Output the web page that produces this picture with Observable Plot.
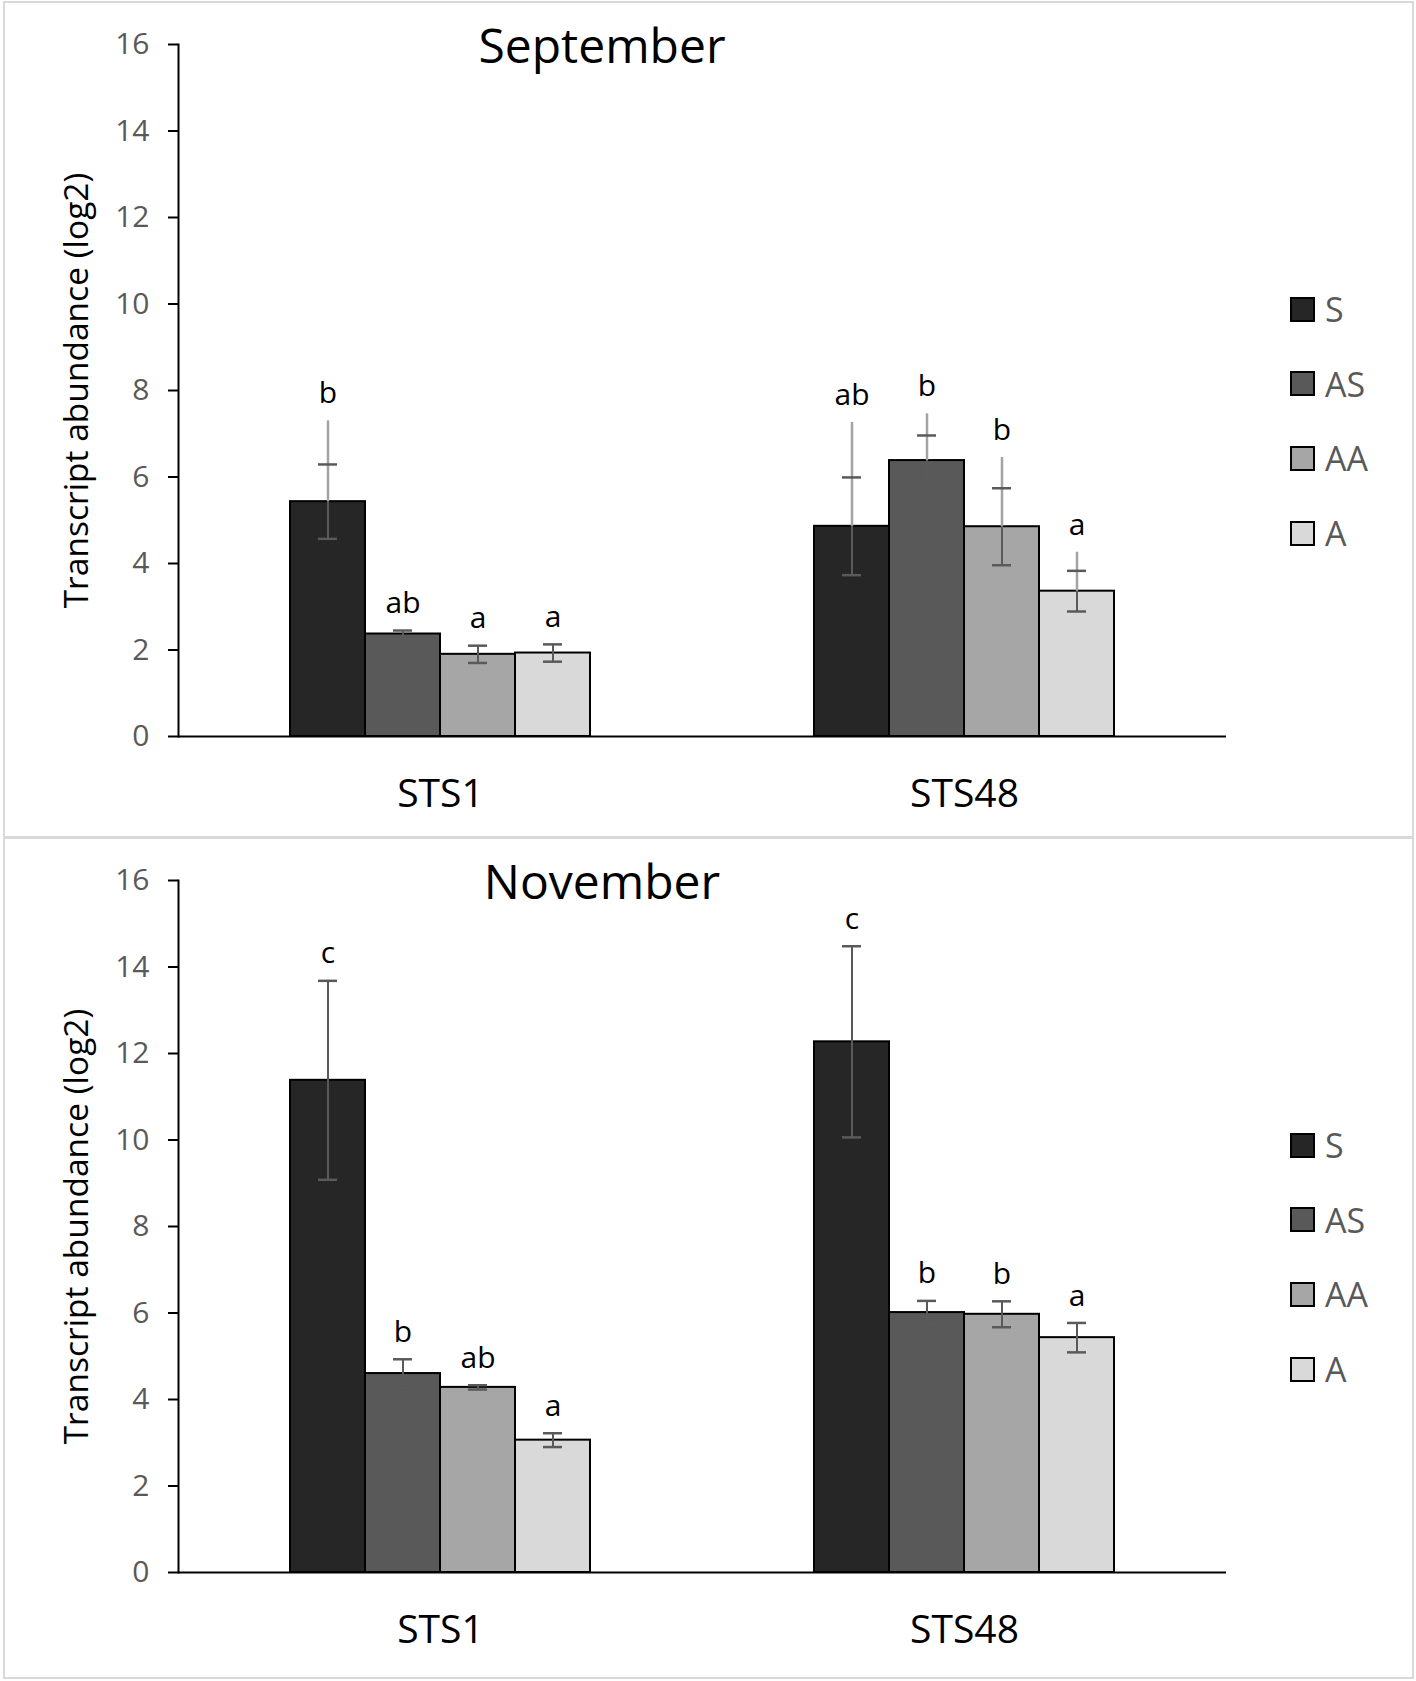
<!DOCTYPE html>
<html><head><meta charset="utf-8">
<script src="https://cdn.jsdelivr.net/npm/d3@7"></script>
<script src="https://cdn.jsdelivr.net/npm/@observablehq/plot@0.6"></script>
<style>
body{margin:0;background:#fff;font-family:"Open Sans",sans-serif;}
#page{position:relative;width:1416px;height:1681px;background:#fff;}
.panel{position:absolute;left:3px;width:1411px;box-sizing:border-box;border:2px solid #d9d9d9;background:#fff;}
.panel svg{position:absolute;left:0;top:0;}
.title{position:absolute;font-size:48px;color:#000;transform:translate(-50%,-50%);white-space:nowrap;line-height:1;}
.item{position:absolute;display:flex;align-items:center;transform:translateY(-50%);}
.sw{width:21px;height:21px;border:2px solid #000;margin-right:10px;}
.lab{font-size:34px;color:#595959;line-height:1;}
</style></head>
<body><div id="page"></div>
<script>
const genes = ["STS1", "STS48"];
const treatments = ["S", "AS", "AA", "A"];
const colors = ["#262626", "#595959", "#a6a6a6", "#d9d9d9"];
const yTicks = [0, 2, 4, 6, 8, 10, 12, 14, 16];
const yLabel = "Transcript abundance (log2)";

// September (order: STS1 S, AS, AA, A, STS48 S, AS, AA, A)
const sepMean = [5.43, 2.37, 1.90, 1.93, 4.86, 6.38, 4.85, 3.36];
const sepErr = [0.86, 0.08, 0.20, 0.20, 1.13, 0.58, 0.89, 0.47];
const sepUpper = [7.30, null, null, null, 7.26, 7.46, 6.45, 4.26];
const sepLetters = ["b", "ab", "a", "a", "ab", "b", "b", "a"];

// November
const novMean = [11.38, 4.60, 4.28, 3.06, 12.27, 6.01, 5.97, 5.43];
const novErr = [2.30, 0.33, 0.05, 0.16, 2.21, 0.27, 0.30, 0.34];
const novUpper = [null, null, null, null, null, null, null, null];
const novLetters = ["c", "b", "ab", "a", "c", "b", "b", "a"];

function chart(mean, err, upper, letters) {
  const rows = genes.flatMap((g, gi) => treatments.map((t, ti) => {
    const k = gi * treatments.length + ti;
    return {gene: g, trt: t, mean: mean[k], lo: mean[k] - err[k], hi: mean[k] + err[k],
            upper: upper[k], letter: letters[k]};
  }));
  const ext = rows.filter(d => d.upper != null);
  const svg = Plot.plot({
    width: 1407, height: 832,
    marginLeft: 173, marginRight: 186, marginTop: 41, marginBottom: 99,
    style: {fontFamily: '"Open Sans", sans-serif', background: "transparent", overflow: "visible", color: "#000"},
    fx: {domain: genes, padding: 0, label: null},
    x: {domain: treatments, paddingInner: 0, paddingOuter: 1.49, axis: null},
    y: {domain: [0, 16], label: null},
    color: {domain: treatments, range: colors},
    marks: [
      Plot.axisY(yTicks, {anchor: "left", tickSize: 10, tickPadding: 19, fontSize: 30, strokeWidth: 2,
        label: yLabel, labelAnchor: "center", labelOffset: 114, labelArrow: "none"}),
      Plot.axisFx({anchor: "bottom", tickSize: 0, tickPadding: 43, fontSize: 39, label: null}),
      Plot.barY(rows, {fx: "gene", x: "trt", y: "mean", fill: "trt", stroke: "#000", strokeWidth: 2}),
      Plot.ruleX(rows, {fx: "gene", x: "trt", y1: "lo", y2: "hi", stroke: "#5a5a5a", strokeWidth: 2}),
      Plot.ruleX(ext, {fx: "gene", x: "trt", y1: "mean", y2: "upper", stroke: "#a3a3a3", strokeWidth: 2.5}),
      Plot.tickY(rows, {fx: "gene", x: "trt", y: "hi", stroke: "#5a5a5a", strokeWidth: 2.5, insetLeft: 28, insetRight: 28}),
      Plot.tickY(rows, {fx: "gene", x: "trt", y: "lo", stroke: "#5a5a5a", strokeWidth: 2.5, insetLeft: 28, insetRight: 28}),
      Plot.text(rows, {fx: "gene", x: "trt", y: d => Math.max(d.hi, d.upper ?? -Infinity), text: "letter",
        dy: -27, fontSize: 30, fill: "#000"}),
      Plot.ruleY([0], {stroke: "#000", strokeWidth: 2}),
      Plot.frame({anchor: "left", facetAnchor: "left", stroke: "#000", strokeWidth: 2})
    ]
  });
  d3.select(svg).selectAll('[aria-label="y-axis tick label"]').attr("fill", "#595959");
  d3.select(svg).selectAll('[aria-label="y-axis label"]').attr("font-size", 33.5);
  return svg;
}

const page = document.getElementById("page");
const panels = [
  {title: "September", top: 1, height: 837, mean: sepMean, err: sepErr, upper: sepUpper, letters: sepLetters},
  {title: "November", top: 837, height: 842, mean: novMean, err: novErr, upper: novUpper, letters: novLetters}
];
for (const p of panels) {
  const div = document.createElement("div");
  div.className = "panel";
  div.style.top = p.top + "px";
  div.style.height = p.height + "px";
  page.appendChild(div);
  div.appendChild(chart(p.mean, p.err, p.upper, p.letters));
  const t = document.createElement("div");
  t.className = "title";
  t.textContent = p.title;
  t.style.left = "597px";
  t.style.top = "42px";
  div.appendChild(t);
  treatments.forEach((tr, i) => {
    const it = document.createElement("div");
    it.className = "item";
    it.style.left = "1285px";
    it.style.top = (306 + i * 74.7) + "px";
    const sw = document.createElement("div");
    sw.className = "sw";
    sw.style.background = colors[i];
    const lb = document.createElement("span");
    lb.className = "lab";
    lb.textContent = tr;
    it.appendChild(sw); it.appendChild(lb);
    div.appendChild(it);
  });
}
</script></body></html>
